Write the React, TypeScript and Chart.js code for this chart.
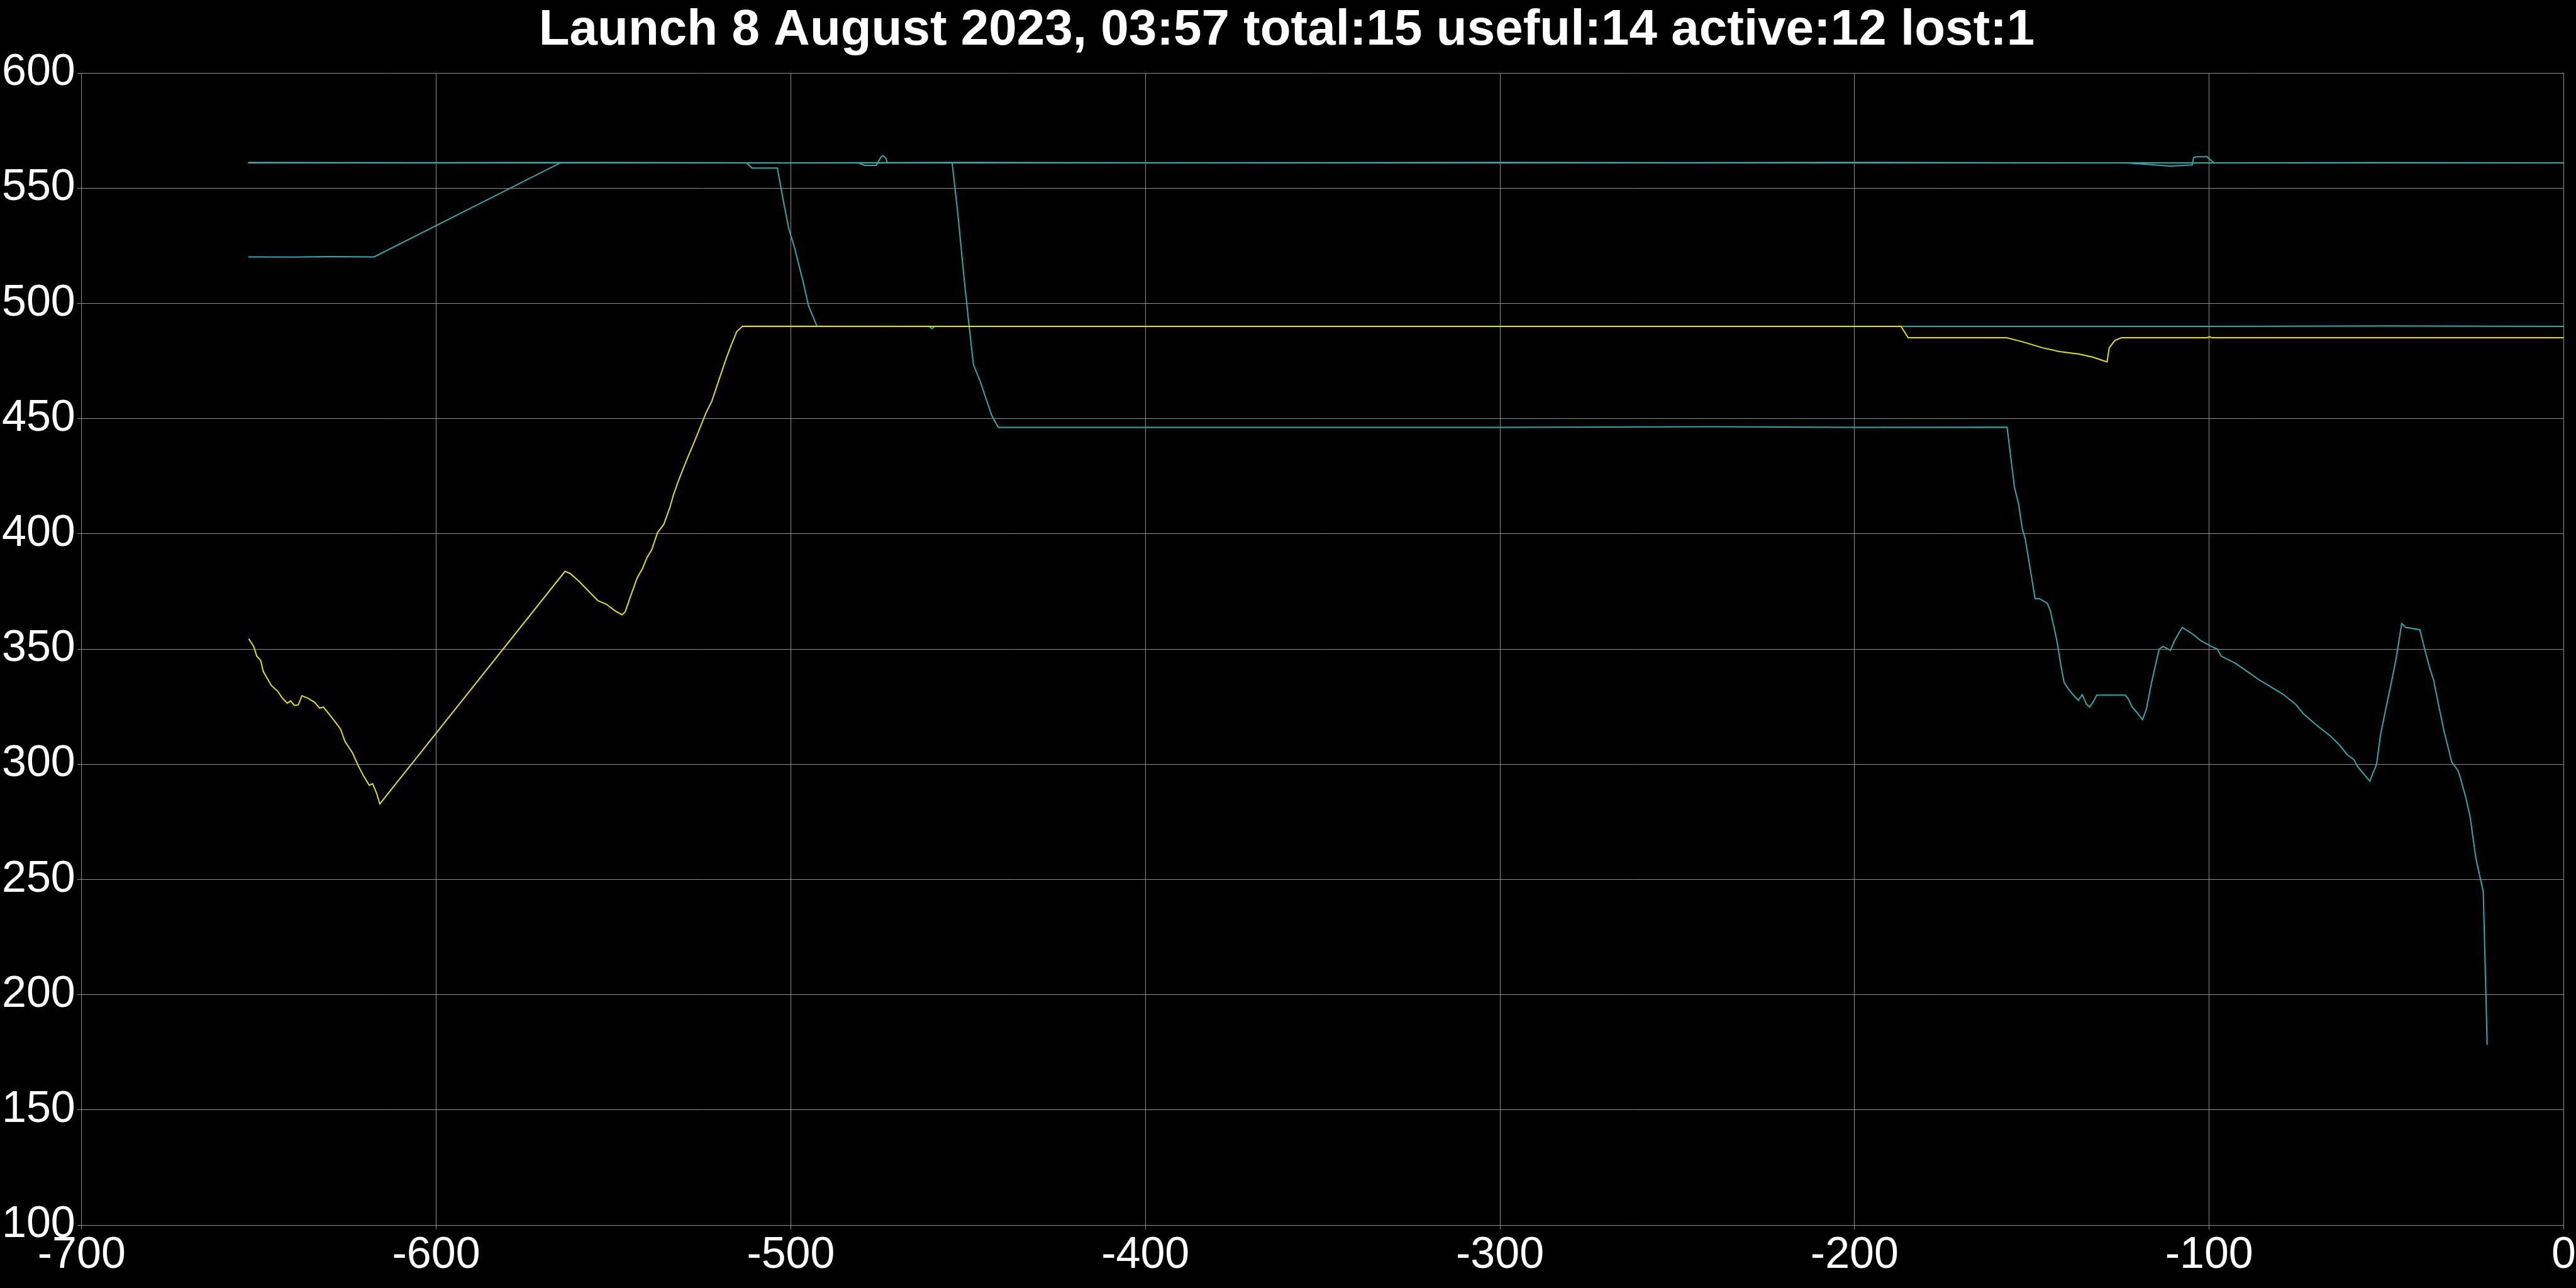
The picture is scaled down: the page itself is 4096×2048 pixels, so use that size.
import React, { useEffect, useRef } from "react";
import { Chart, registerables } from "chart.js";

Chart.register(...registerables);

const TITLE = "Launch 8 August 2023, 03:57 total:15 useful:14 active:12 lost:1";

const X_MIN = -700;
const X_MAX = 0;
const X_STEP = 100;
const Y_MIN = 100;
const Y_MAX = 600;
const Y_STEP = 50;

// [seconds, value] pairs
const yellowSeries: [number, number][] = [
  [-652.9, 354.5], [-651.5, 351.2], [-650.6, 346.9], [-649.5, 345.1], [-648.8, 340.3],
  [-646.5, 334.2], [-644.7, 331.7], [-643.4, 328.7], [-642.0, 326.5], [-641.1, 327.5],
  [-640.0, 325.5], [-638.9, 325.8], [-637.9, 329.7], [-636.2, 328.7], [-634.3, 326.9],
  [-632.9, 324.4], [-631.8, 324.8], [-629.1, 319.6], [-627.0, 315.3], [-625.7, 309.8],
  [-623.6, 304.9], [-622.0, 299.4], [-620.6, 295.2], [-618.9, 290.9], [-617.9, 291.5],
  [-616.8, 287.3], [-615.9, 282.8], [-563.7, 383.7], [-562.3, 382.9], [-559.6, 379.2],
  [-556.9, 374.9], [-554.4, 371.0], [-552.1, 369.5], [-549.4, 366.4], [-547.6, 364.9],
  [-546.7, 366.2], [-545.3, 372.5], [-543.3, 381.0], [-541.9, 384.7], [-540.6, 389.6],
  [-539.2, 393.2], [-537.6, 400.5], [-535.8, 404.2], [-534.1, 411.5], [-533.1, 416.9],
  [-531.7, 423.0], [-530.3, 428.5], [-529.0, 433.4], [-527.0, 440.7], [-523.9, 452.6],
  [-522.3, 457.5], [-519.9, 468.5], [-518.3, 475.8], [-516.8, 481.9], [-515.2, 487.9],
  [-513.6, 490.1], [-450.0, 490.0], [-350.0, 490.0], [-250.0, 490.0], [-186.9, 490.0],
  [-184.9, 485.1], [-157.1, 485.1], [-153.0, 483.5], [-146.9, 480.7], [-142.2, 479.1],
  [-136.7, 478.0], [-132.9, 476.7], [-128.8, 474.6], [-128.2, 480.7], [-126.6, 483.9],
  [-124.8, 485.1], [-100.6, 485.1], [-99.9, 485.5], [-99.2, 485.1], [-50.0, 485.1],
  [0, 485.1],
];

const teal446Series: [number, number][] = [
  [-653.0, 561.0], [-560.0, 561.0], [-500.0, 561.0], [-454.5, 561.0], [-452.9, 538.9],
  [-451.3, 513.4], [-449.7, 489.8], [-448.5, 473.4], [-446.6, 466.2], [-445.0, 458.9],
  [-443.4, 451.6], [-441.5, 446.2], [-400.0, 446.2], [-300.0, 446.2], [-240.0, 446.5],
  [-200.0, 446.2], [-157.0, 446.3], [-154.9, 420.0], [-153.8, 413.3], [-152.7, 402.2],
  [-151.9, 398.0], [-149.1, 371.9], [-147.9, 371.9], [-145.7, 369.9], [-144.8, 366.7],
  [-142.9, 353.2], [-141.8, 342.7], [-140.9, 335.4], [-139.5, 332.3], [-138.4, 330.2],
  [-136.9, 327.7], [-135.8, 330.2], [-134.6, 326.0], [-133.7, 324.8], [-132.7, 327.1],
  [-131.7, 330.0], [-123.7, 330.0], [-122.9, 328.6], [-121.8, 325.0], [-120.3, 322.3],
  [-118.8, 319.4], [-117.7, 324.0], [-116.4, 334.4], [-115.2, 342.7], [-114.1, 350.0],
  [-113.0, 351.1], [-110.9, 349.4], [-109.8, 353.6], [-107.6, 359.4], [-105.0, 356.9],
  [-102.5, 353.8], [-99.4, 351.1], [-97.7, 350.0], [-96.6, 346.9], [-92.6, 343.8],
  [-89.2, 340.2], [-85.8, 336.5], [-82.4, 333.4], [-79.0, 330.2], [-75.6, 326.0],
  [-73.4, 321.9], [-70.0, 317.3], [-66.0, 312.5], [-63.2, 308.3], [-61.1, 304.2],
  [-59.2, 302.0], [-58.1, 298.9], [-56.4, 295.7], [-54.7, 292.7], [-52.8, 300.0],
  [-51.6, 313.5], [-50.2, 324.0], [-48.5, 336.5], [-47.4, 344.8], [-45.7, 361.1],
  [-44.6, 359.4], [-40.6, 358.4], [-38.9, 348.0], [-37.8, 341.7], [-36.7, 336.5],
  [-35.5, 327.1], [-33.8, 314.6], [-31.6, 301.0], [-29.8, 297.2], [-29.1, 293.7],
  [-27.6, 285.4], [-26.4, 277.0], [-24.8, 259.3], [-22.7, 244.6], [-21.6, 178.3],
];

const teal490Series: [number, number][] = [
  [-653.0, 561.0], [-580.0, 561.1], [-512.5, 561.0], [-510.9, 558.7], [-503.8, 558.7],
  [-502.1, 544.4], [-500.6, 532.6], [-499.0, 524.4], [-496.6, 509.8], [-495.0, 498.9],
  [-492.6, 490.0], [-461.0, 490.0], [-460.2, 489.0], [-459.4, 490.0], [-300.0, 490.0],
  [-200.0, 490.0], [-100.0, 490.0], [-50.0, 490.2], [0, 490.0],
];

const teal520Series: [number, number][] = [
  [-653.0, 520.2], [-640.0, 520.1], [-630.0, 520.3], [-617.5, 520.2], [-565.0, 561.0],
  [-500.0, 561.0], [-300.0, 561.1], [-100.0, 561.0], [0, 561.0],
];

const tealTopA: [number, number][] = [
  [-653.0, 561.2], [-600.0, 561.0], [-550.0, 561.1], [-500.0, 561.0], [-450.0, 561.2],
  [-400.0, 561.0], [-350.0, 561.0], [-300.0, 561.1], [-250.0, 561.0], [-200.0, 561.2],
  [-150.0, 561.0], [-100.0, 561.0], [-50.0, 561.1], [0, 561.0],
];

const tealTopB: [number, number][] = [
  [-653.0, 561.0], [-481.0, 561.0], [-479.2, 559.9], [-475.9, 559.9], [-474.6, 563.5],
  [-474.0, 564.1], [-473.2, 563.0], [-472.8, 561.0], [-300.0, 561.0], [0, 561.0],
];

const tealTopC: [number, number][] = [
  [-653.0, 561.0], [-400.0, 561.0], [-123.2, 561.0], [-111.0, 559.6], [-104.8, 560.1],
  [-104.4, 563.3], [-103.6, 563.6], [-100.6, 563.6], [-98.7, 561.0], [0, 561.0],
];

const YELLOW = "#e2e200";
const TEAL = "#2fa9a9";
const GRID = "#8c8c8c";
const FONT = "'Liberation Sans', Arial, sans-serif";

const toPoints = (s: [number, number][]) => s.map(([x, y]) => ({ x, y }));

export default function App() {
  const ref = useRef<HTMLCanvasElement | null>(null);

  useEffect(() => {
    if (!ref.current) return;
    const mk = (data: [number, number][], color: string) => ({
      data: toPoints(data),
      borderColor: color,
      backgroundColor: color,
      borderWidth: 2,
      pointRadius: 0,
      tension: 0,
      fill: false,
    });
    const chart = new Chart(ref.current, {
      type: "line",
      data: {
        datasets: [
          mk(yellowSeries, YELLOW),
          mk(teal446Series, TEAL),
          mk(teal490Series, TEAL),
          mk(teal520Series, TEAL),
          mk(tealTopA, TEAL),
          mk(tealTopB, TEAL),
          mk(tealTopC, TEAL),
        ],
      },
      options: {
        animation: false,
        responsive: false,
        maintainAspectRatio: false,
        layout: { padding: { left: 0, right: 4, top: 0, bottom: 9 } },
        plugins: {
          legend: { display: false },
          tooltip: { enabled: false },
          title: {
            display: true,
            text: TITLE,
            color: "#ffffff",
            font: { family: FONT, size: 80, weight: "bold" },
            padding: { top: 1, bottom: 19 },
          },
        },
        scales: {
          x: {
            type: "linear",
            min: X_MIN,
            max: X_MAX,
            ticks: {
              stepSize: X_STEP,
              color: "#ffffff",
              font: { family: FONT, size: 70 },
              padding: 0,
              maxRotation: 0,
            },
            grid: { color: GRID, lineWidth: 1, tickLength: 7 },
            border: { color: GRID },
          },
          y: {
            type: "linear",
            min: Y_MIN,
            max: Y_MAX,
            ticks: {
              stepSize: Y_STEP,
              color: "#ffffff",
              font: { family: FONT, size: 70 },
              padding: 3,
            },
            grid: { color: GRID, lineWidth: 1, tickLength: 7 },
            border: { color: GRID },
          },
        },
      },
    });
    return () => chart.destroy();
  }, []);

  return (
    <div style={{ position: "fixed", left: 0, top: 0, width: 4096, height: 2048, background: "#000" }}>
      <canvas ref={ref} width={4096} height={2048} style={{ display: "block", width: 4096, height: 2048 }} />
    </div>
  );
}
